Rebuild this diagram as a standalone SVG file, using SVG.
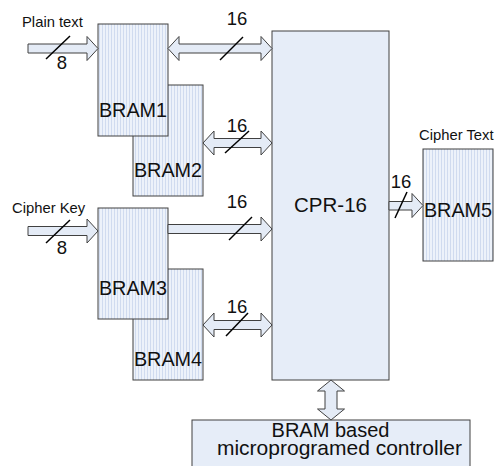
<svg xmlns="http://www.w3.org/2000/svg" width="496" height="466" viewBox="0 0 496 466">
<defs>
<pattern id="vl" width="3" height="4" patternUnits="userSpaceOnUse">
<rect width="3" height="4" fill="#edf2fa"/>
<rect x="0" width="1" height="4" fill="#d0dbef"/>
</pattern>
<style>
.bram{fill:url(#vl);stroke:#404040;stroke-width:1}
.box{fill:#e6edf8;stroke:#404040;stroke-width:1}
.arr{fill:#e4ebf6;stroke:#404040;stroke-width:1;stroke-linejoin:miter}
.sl{stroke:#000;stroke-width:1.5;fill:none}
text{font-family:"Liberation Sans",Arial,sans-serif;fill:#111}
.big{font-size:19.8px}
.num{font-size:18.5px}
.lab{font-size:14.8px}
</style>
</defs>
<rect width="496" height="466" fill="#fff"/>
<g id="cpr16"><rect class="box" x="272" y="31" width="117" height="349"/><text x="330.5" y="212" text-anchor="middle" style="font-size:20.5px">CPR-16</text></g>
<g id="bram2"><rect class="bram" x="133" y="85" width="70" height="111"/><text class="big" x="168" y="177" text-anchor="middle">BRAM2</text></g>
<g id="bram1"><rect class="bram" x="98" y="24" width="70" height="112"/><text class="big" x="133" y="117" text-anchor="middle">BRAM1</text></g>
<g id="bram4"><rect class="bram" x="133" y="269" width="70" height="111"/><text class="big" x="168" y="366" text-anchor="middle">BRAM4</text></g>
<g id="bram3"><rect class="bram" x="98" y="208" width="70" height="111"/><text class="big" x="133" y="295" text-anchor="middle">BRAM3</text></g>
<g id="bram5"><rect class="bram" x="423" y="149" width="70" height="112"/><text class="big" x="458" y="217" text-anchor="middle">BRAM5</text><text class="lab" x="419" y="140">Cipher Text</text></g>
<g id="controller"><rect class="box" x="192" y="420" width="278" height="60"/><text x="330.5" y="437" text-anchor="middle" style="font-size:20px">BRAM based</text><text x="339.5" y="455" text-anchor="middle" style="font-size:21px">microprogramed controller</text></g>
<g id="inputs">
<text class="lab" x="22" y="27">Plain text</text>
<text class="lab" x="12" y="213">Cipher Key</text>
</g>
<g id="connectors">
<path class="arr" d="M28,44 H87 V36.5 L98,48.5 L87,60.5 V53 H28 Z"/>
<path class="sl" d="M46,59 L70,36"/>
<text class="num" x="62" y="69" text-anchor="middle">8</text>
<path class="arr" d="M28,226.5 H87 V219 L98,231 L87,243 V235.5 H28 Z"/>
<path class="sl" d="M46,243 L70,220"/>
<text class="num" x="62" y="254" text-anchor="middle">8</text>
<path class="arr" d="M168,48.5 L179,36.5 V44 H261 V36.5 L272,48.5 L261,60.5 V53 H179 V60.5 Z"/>
<path class="sl" d="M220,60 L243,37"/>
<text class="num" x="237" y="25" text-anchor="middle">16</text>
<path class="arr" d="M203,143 L214,131 V138.5 H261 V131 L272,143 L261,155 V147.5 H214 V155 Z"/>
<path class="sl" d="M225,153 L249,131"/>
<text class="num" x="237" y="132" text-anchor="middle">16</text>
<path class="arr" d="M168,224.5 H261 V217 L272,229 L261,241 V233.5 H168 Z"/>
<path class="sl" d="M229,240 L252,217"/>
<text class="num" x="237" y="208" text-anchor="middle">16</text>
<path class="arr" d="M203,325 L214,313 V320.5 H261 V313 L272,325 L261,337 V329.5 H214 V337 Z"/>
<path class="sl" d="M226,336 L248,313"/>
<text class="num" x="237" y="313" text-anchor="middle">16</text>
<path class="arr" d="M389,201.5 H412 V193.5 L423,205.5 L412,217.5 V210 H389 Z"/>
<path class="sl" d="M395,218 L407,192"/>
<text class="num" x="401" y="188" text-anchor="middle">16</text>
<path class="arr" d="M331,380 L344.5,391 H337 V409 H344.5 L331,420 L317.5,409 H325 V391 H317.5 Z"/>
</g>
</svg>
